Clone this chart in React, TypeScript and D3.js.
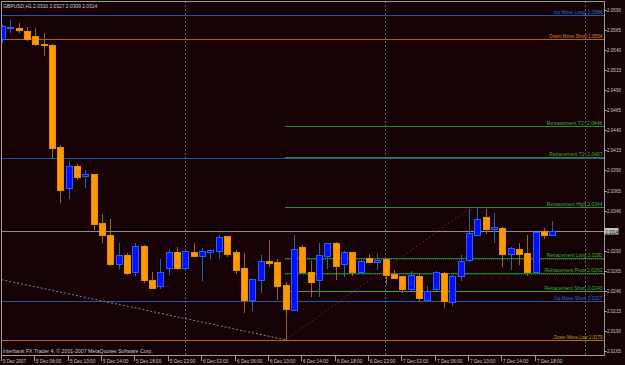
import React from "react";
import * as d3 from "d3";

// ---------- DATA ----------
const chartTitle = "GBPUSD,H1  2.0310 2.0327 2.0309 2.0314";
const copyright = "Interbank FX Trader 4, \u00A9 2001-2007 MetaQuotes Software Corp.";

// hourly bars starting 5 Dec 2007 02:00
const opens = [2.0554, 2.0567, 2.0568, 2.0564, 2.0558, 2.0548, 2.0547, 2.0419, 2.0368, 2.0396,
  2.0383, 2.0385, 2.0324, 2.0309, 2.0273, 2.0285, 2.0264, 2.0296, 2.0253, 2.0246,
  2.0268, 2.0288, 2.0269, 2.0288, 2.0284, 2.0288, 2.029, 2.0308, 2.0288, 2.0268,
  2.0229, 2.0253, 2.0277, 2.0276, 2.0247, 2.0216, 2.0294, 2.0263, 2.0253, 2.0284,
  2.0299, 2.0273, 2.0288, 2.0263, 2.0281, 2.0276, 2.028, 2.0261, 2.0258, 2.0242,
  2.0258, 2.0229, 2.0242, 2.0262, 2.0226, 2.0258, 2.0278, 2.031, 2.0332, 2.0317,
  2.0318, 2.0286, 2.0292, 2.0287, 2.0264, 2.0314, 2.031];
const highs = [2.0571, 2.0578, 2.0574, 2.0569, 2.0568, 2.0561, 2.0548, 2.0422, 2.0402, 2.0398,
  2.0391, 2.0386, 2.0336, 2.0329, 2.0299, 2.0287, 2.0299, 2.0297, 2.0264, 2.028,
  2.0292, 2.0294, 2.0291, 2.0299, 2.0293, 2.0292, 2.0309, 2.0308, 2.0291, 2.0287,
  2.0255, 2.0285, 2.0303, 2.028, 2.0251, 2.031, 2.0297, 2.0277, 2.0299, 2.0299,
  2.0301, 2.029, 2.0289, 2.0281, 2.0286, 2.0286, 2.0281, 2.0266, 2.0258, 2.0265,
  2.0262, 2.0246, 2.0265, 2.0263, 2.026, 2.0285, 2.0342, 2.0344, 2.0342, 2.0337,
  2.0319, 2.0295, 2.0299, 2.031, 2.0313, 2.0318, 2.0327];
const lows = [2.055, 2.0562, 2.0562, 2.0553, 2.0547, 2.0534, 2.0406, 2.0351, 2.0356, 2.0379,
  2.0369, 2.0317, 2.0301, 2.0272, 2.0268, 2.0261, 2.026, 2.0251, 2.0244, 2.0244,
  2.0261, 2.0267, 2.0269, 2.0284, 2.0253, 2.0281, 2.0281, 2.0283, 2.0262, 2.0214,
  2.0216, 2.0239, 2.0271, 2.023, 2.0179, 2.0216, 2.0263, 2.0233, 2.0233, 2.0268,
  2.0255, 2.0259, 2.026, 2.0261, 2.0276, 2.0267, 2.0249, 2.0256, 2.0239, 2.0241,
  2.0227, 2.0228, 2.0241, 2.022, 2.0222, 2.0254, 2.0277, 2.0309, 2.0312, 2.0301,
  2.0271, 2.0267, 2.0273, 2.026, 2.0264, 2.0306, 2.0309];
const closes = [2.057, 2.0569, 2.0565, 2.0554, 2.0548, 2.0546, 2.0418, 2.0366, 2.0396, 2.0382,
  2.0386, 2.0323, 2.031, 2.0273, 2.0285, 2.0262, 2.0296, 2.0253, 2.0244, 2.0264,
  2.0288, 2.0268, 2.029, 2.0284, 2.029, 2.0291, 2.0307, 2.0286, 2.0266, 2.0229,
  2.0255, 2.0277, 2.0275, 2.0246, 2.0217, 2.0292, 2.0263, 2.0251, 2.0285, 2.0299,
  2.0271, 2.0288, 2.0264, 2.0277, 2.0276, 2.0279, 2.026, 2.0256, 2.0242, 2.026,
  2.0231, 2.024, 2.0264, 2.0227, 2.0258, 2.0277, 2.0312, 2.033, 2.0317, 2.0319,
  2.0286, 2.0293, 2.0286, 2.0264, 2.0313, 2.031, 2.0314];

const timeLabels = ["5 Dec 2007", "5 Dec 06:00", "5 Dec 10:00", "5 Dec 14:00", "5 Dec 18:00",
  "5 Dec 22:00", "6 Dec 02:00", "6 Dec 06:00", "6 Dec 10:00", "6 Dec 14:00", "6 Dec 18:00",
  "6 Dec 22:00", "7 Dec 02:00", "7 Dec 06:00", "7 Dec 10:00", "7 Dec 14:00", "7 Dec 18:00"];
const timeLabelBars = [0, 4, 8, 12, 16, 20, 24, 28, 32, 36, 40, 44, 48, 52, 56, 60, 64];
const daySeparatorBars = [22, 46, 70];

const priceTicks = [2.059, 2.0565, 2.054, 2.0515, 2.049, 2.0465, 2.044, 2.0415, 2.039, 2.0365,
  2.034, 2.029, 2.0265, 2.024, 2.0215, 2.019, 2.0165];

const levelNames = ["Up Move Long:", "Down Move Short", "Retracement  T2:", "Retracement T1:",
  "Retracement High", "Retracement Long", "Retracement Pivot", "Retracement Short",
  "Up Move Short", "Down Move Low"];
const levelPrices = [2.0584, 2.0554, 2.0446, 2.0407, 2.0344, 2.0281, 2.0262, 2.024, 2.0227, 2.0179];
const levelKinds = ["up", "down", "retr", "retr", "retr", "retrBold", "retrBold", "retrLight", "up", "downLow"];
const extraUpLinePrice = 2.0405;
const retracementStartBar = 34;

const currentPrice = 2.0314;
const downTrendBars = [-1, 34];
const downTrendPrices = [2.0256, 2.0179];
const upTrendBars = [34, 56];
const upTrendPrices = [2.0179, 2.0342];

// ---------- STYLE ----------
const BG = "#160204";
const FONT = "'Liberation Sans', Arial, sans-serif";
const lineColor: Record<string, string> = {
  up: "#1f5aa6", down: "#b8650e", downLow: "#b8650e",
  retr: "#24902a", retrBold: "#1f7f26", retrLight: "#3aa53a",
};
const labelColor: Record<string, string> = {
  up: "#2f6fd6", down: "#d9891a", downLow: "#b8a424",
  retr: "#3fae3f", retrBold: "#3fae3f", retrLight: "#3fae3f",
};

export default function App() {
  const W = 625, H = 365;
  const left = 1, top = 1, right = 604, bottom = 355;
  const x = d3.scaleLinear().domain([0, 66]).range([2, 2 + 8.34 * 66]);
  const y = d3.scaleLinear().domain([2.0165, 2.059]).range([351, 10]);
  const cy = (p: number) => Math.round(y(p)) + 0.5;

  const bars = d3.range(opens.length).map((i) => ({
    i, o: opens[i], h: highs[i], l: lows[i], c: closes[i],
  }));

  const trendLine = d3.line<[number, number]>().x((d) => x(d[0])).y((d) => y(d[1]));
  const downPts: [number, number][] = downTrendBars.map((b, k) => [b, downTrendPrices[k]]);
  const upPts: [number, number][] = upTrendBars.map((b, k) => [b, upTrendPrices[k]]);

  const CW = 2.42; // char width for the tiny terminal font

  return (
    <div style={{ position: "fixed", left: 0, top: 0, width: W, height: H, background: BG }}>
      <svg width={W} height={H} style={{ display: "block" }} fontFamily={FONT}>
        <defs>
          <clipPath id="plot">
            <rect x={left + 1} y={top + 1} width={right - left - 1} height={bottom - top - 1} />
          </clipPath>
        </defs>
        <rect x={0} y={0} width={W} height={H} fill={BG} />

        <g clipPath="url(#plot)" shapeRendering="crispEdges">
          {daySeparatorBars.map((b) => (
            <line key={"sep" + b} x1={Math.round(x(b) - 0.5) + 0.5} x2={Math.round(x(b) - 0.5) + 0.5}
              y1={top} y2={bottom} stroke="#48678a" strokeDasharray="2 2" />
          ))}

          <line x1={left} x2={right} y1={cy(extraUpLinePrice)} y2={cy(extraUpLinePrice)} stroke={lineColor.up} />
          {levelPrices.map((p, k) => {
            const kind = levelKinds[k];
            const x1 = kind.startsWith("retr") ? Math.round(x(retracementStartBar)) - 1 : left;
            return (
              <g key={"lv" + k}>
                <line x1={x1} x2={right} y1={cy(p)} y2={cy(p)} stroke={lineColor[kind]} />
                {kind === "retrBold" && (
                  <line x1={x1} x2={right} y1={cy(p) + 1} y2={cy(p) + 1} stroke="#1a5a1a"
                    strokeDasharray="1 1" />
                )}
              </g>
            );
          })}

          <line x1={left} x2={right} y1={cy(currentPrice)} y2={cy(currentPrice)} stroke="#8e8e8e" />
        </g>

        <g clipPath="url(#plot)">
          <path d={trendLine(downPts) || ""} stroke="#7d8a98" strokeWidth={1} strokeDasharray="2 2" fill="none" />
          <path d={trendLine(upPts) || ""} stroke="#a31414" strokeWidth={1} strokeDasharray="1.5 2.5" fill="none" />
        </g>

        <g clipPath="url(#plot)" shapeRendering="crispEdges">
          {bars.map((d) => {
            const bull = d.c >= d.o;
            const xc = Math.round(x(d.i));
            const yt = Math.round(y(Math.max(d.o, d.c)));
            const yb = Math.round(y(Math.min(d.o, d.c)));
            const hgt = Math.max(1, yb - yt);
            return (
              <g key={"c" + d.i}>
                <line x1={xc + 0.5} x2={xc + 0.5} y1={Math.round(y(d.h))} y2={Math.round(y(d.l)) + 1}
                  stroke={bull ? "#2466ad" : "#94691a"} />
                <rect x={xc - 2.5} y={yt + 0.5} width={6} height={hgt}
                  fill={bull ? "#0010ff" : "#ff9800"} stroke={bull ? "#2a5cff" : "#e88c0a"} strokeWidth={1} />
              </g>
            );
          })}
        </g>

        {/* level labels, right-aligned at the frame */}
        {levelPrices.map((p, k) => {
          const kind = levelKinds[k];
          const full = levelNames[k] + " " + p.toFixed(4);
          const len = full.length * CW;
          return (
            <text key={"lt" + k} x={602.5} y={y(p) - 1} fontSize={5.1} fill={labelColor[kind]}
              textAnchor="end" textLength={len} lengthAdjust="spacingAndGlyphs">{full}</text>
          );
        })}

        <rect x={left + 0.5} y={top + 0.5} width={right - left} height={bottom - top}
          fill="none" stroke="#9c9c9c" shapeRendering="crispEdges" />

        <g shapeRendering="crispEdges">
          {priceTicks.map((p) => (
            <g key={"pt" + p}>
              <line x1={right} x2={right + 3} y1={cy(p)} y2={cy(p)} stroke="#9c9c9c" />
              <text x={607} y={y(p) + 2} fontSize={5.6} fill="#c8c8c8" textLength={14}
                lengthAdjust="spacingAndGlyphs">{p.toFixed(4)}</text>
            </g>
          ))}
        </g>
        <rect x={604.5} y={Math.round(y(currentPrice)) - 3} width={14} height={6.5} fill="#c4c4c4" />
        <text x={605.5} y={y(currentPrice) + 2.2} fontSize={5.6} fill="#000" textLength={12.5}
          lengthAdjust="spacingAndGlyphs">{currentPrice.toFixed(4)}</text>

        <g shapeRendering="crispEdges">
          {timeLabelBars.map((b, k) => {
            const tx = Math.round(x(b)) - 1;
            const lab = timeLabels[k];
            return (
              <g key={"tl" + k}>
                <line x1={tx + 0.5} x2={tx + 0.5} y1={bottom + 1} y2={bottom + 6} stroke="#9c9c9c" />
                <text x={tx + 2} y={362.5} fontSize={5.6} fill="#c8c8c8" textLength={lab.length * 2.3}
                  lengthAdjust="spacingAndGlyphs">{lab}</text>
              </g>
            );
          })}
        </g>

        <text x={3.3} y={7.5} fontSize={5.6} fill="#d0d0d0" textLength={94} lengthAdjust="spacingAndGlyphs">
          {chartTitle}
        </text>
        <text x={2.7} y={353} fontSize={5.6} fill="#c8c8c8" textLength={150} lengthAdjust="spacingAndGlyphs">
          {copyright}
        </text>
      </svg>
    </div>
  );
}
